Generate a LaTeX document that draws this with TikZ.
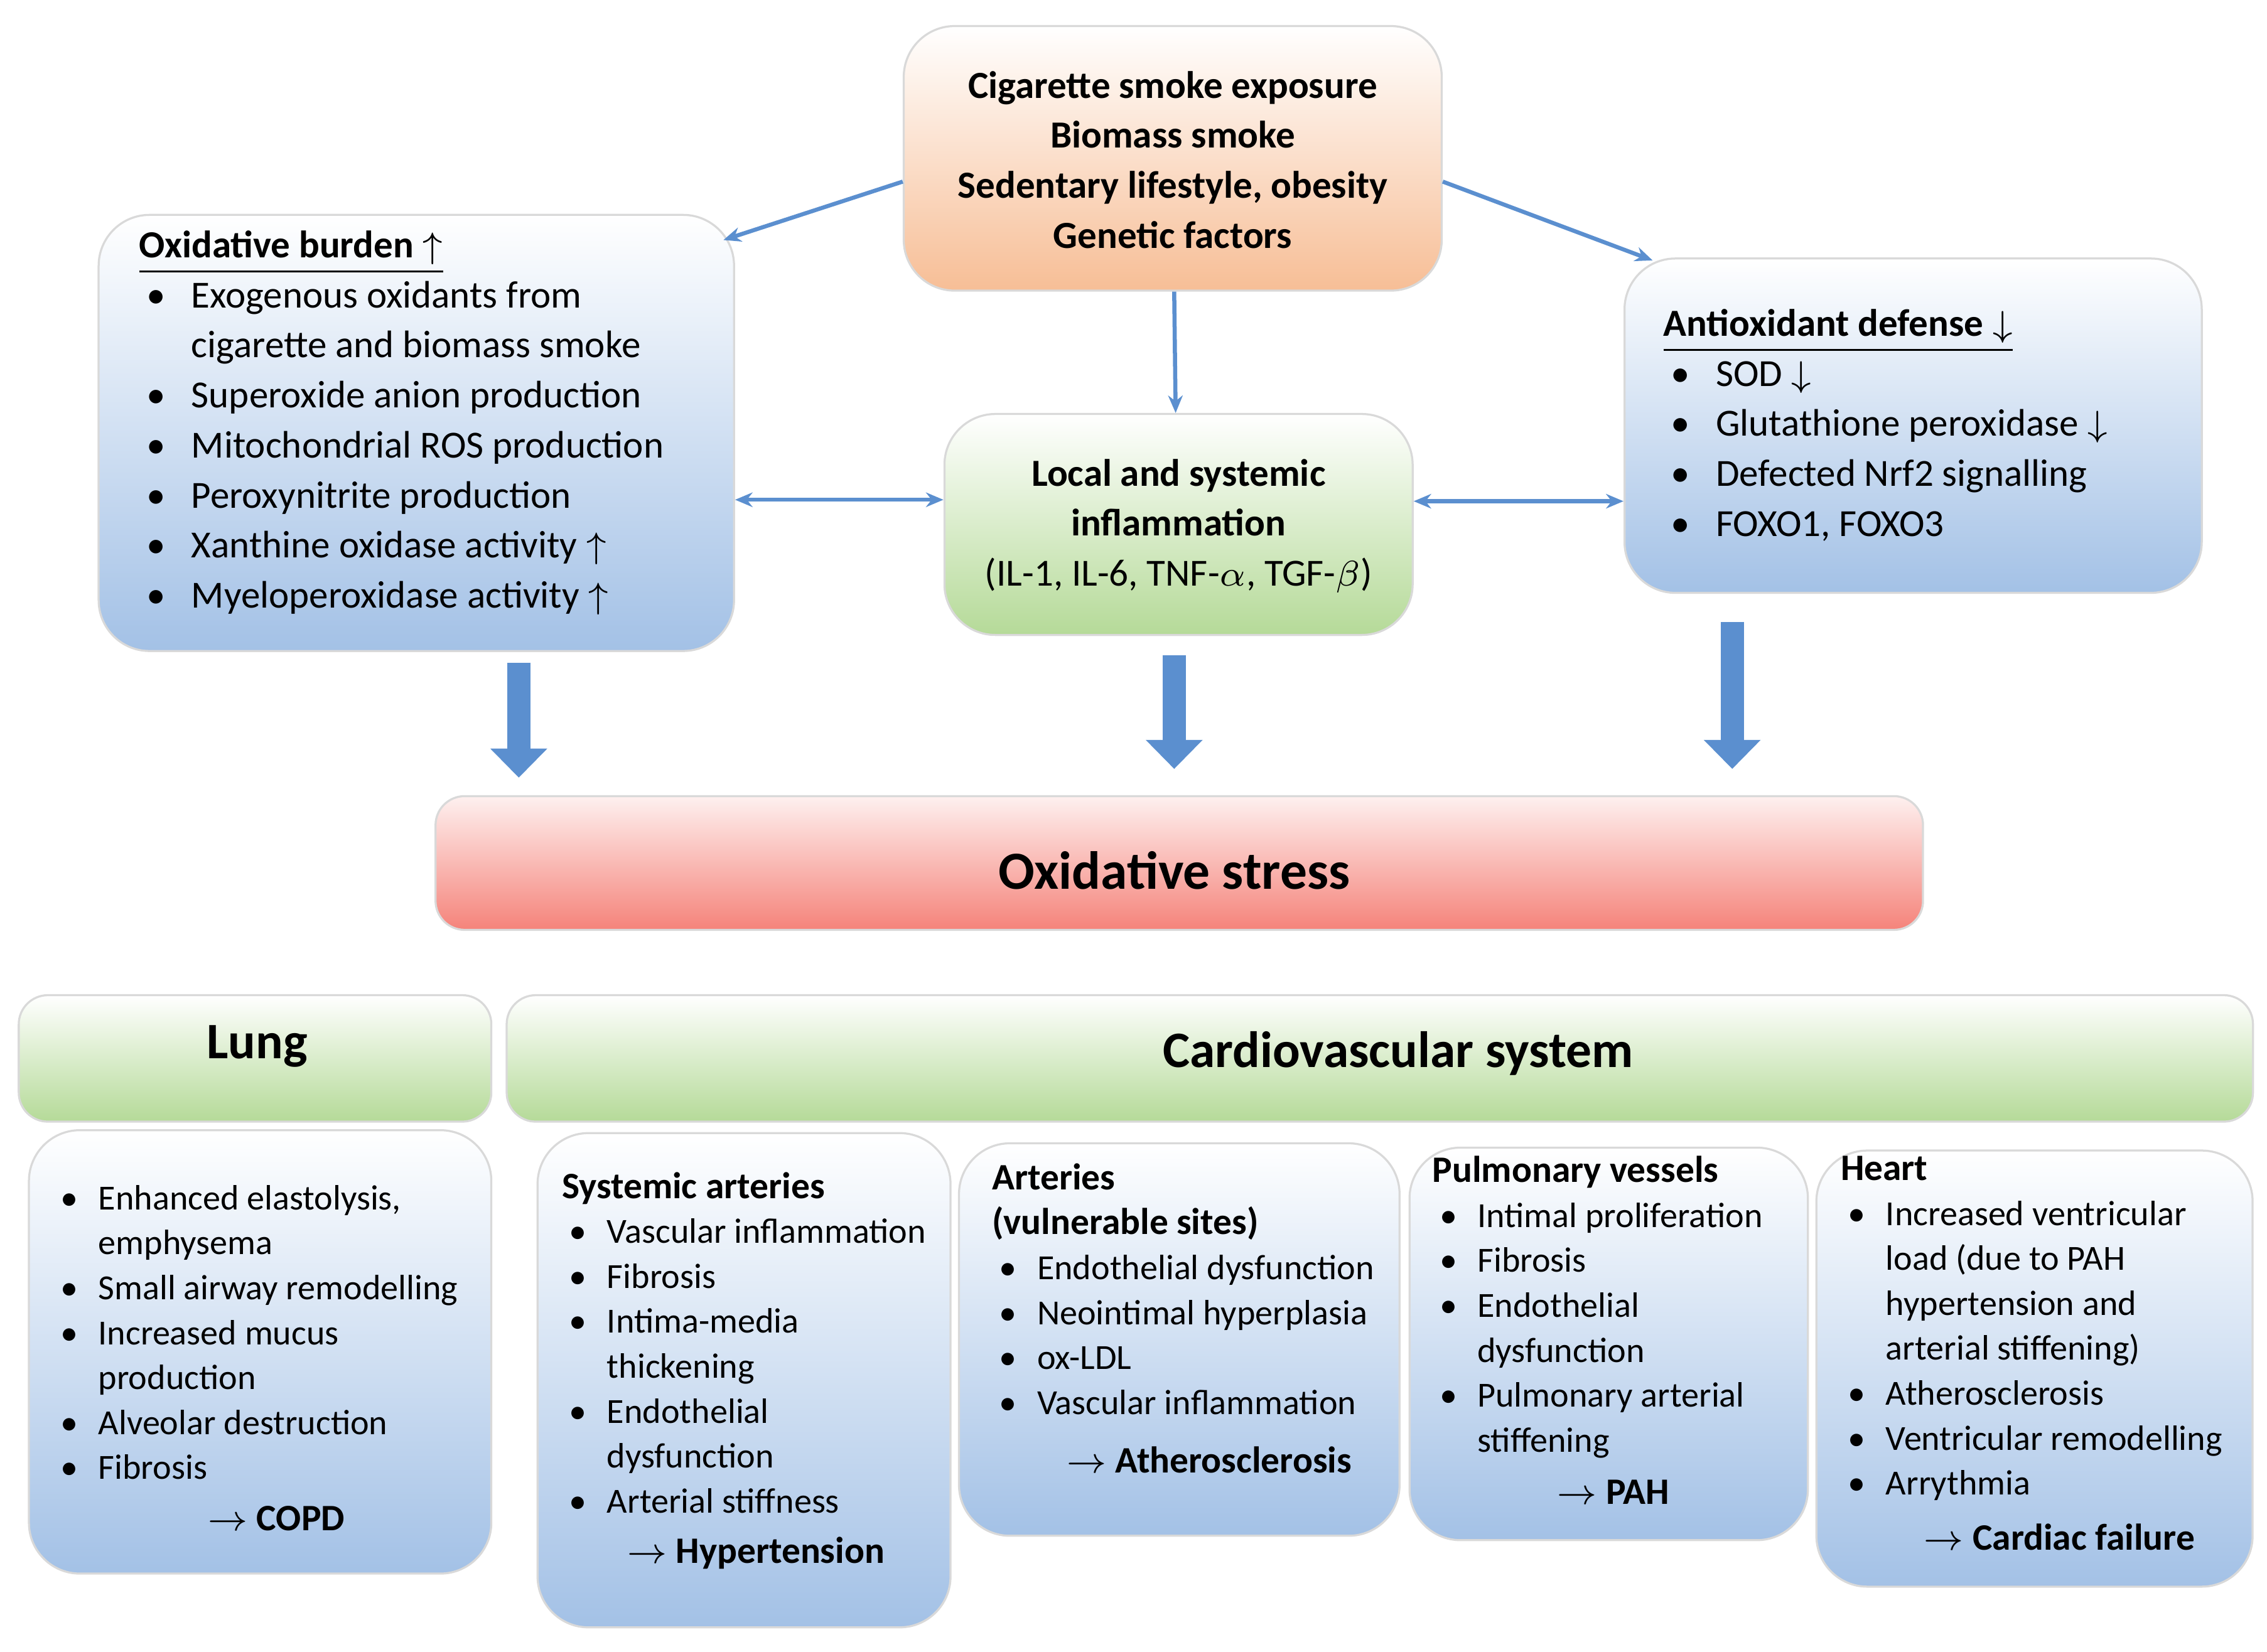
\documentclass[tikz,border=0pt]{standalone}
\usepackage{fontspec}
\setmainfont{Carlito}
\usetikzlibrary{arrows.meta}
\definecolor{bl}{HTML}{A3C1E6}
\definecolor{gr}{HTML}{B5DA98}
\definecolor{og}{HTML}{F7BE96}
\definecolor{rd}{HTML}{F5837A}
\definecolor{ar}{HTML}{5B8FCF}
\newcommand\bu{\makebox[3.6mm][l]{\hspace{0.5mm}\textbullet}}
\newcommand\ind{\hspace*{3.6mm}}
\newcommand\bs{\makebox[3.1mm][l]{\hspace{0.5mm}\textbullet}}
\newcommand\is{\hspace*{3.1mm}}
\begin{document}
\begin{tikzpicture}[x=0.01cm,y=-0.01cm,
 box/.style={rectangle,rounded corners=0.35cm,draw=gray!30,line width=0.4pt,inner sep=0,top color=white},
 bbox/.style={box,bottom color=bl},
 gbox/.style={box,bottom color=gr},
 big/.style={font=\fontsize{7.5}{9.8}\selectfont,inner sep=0,align=left,anchor=north west},
 sml/.style={font=\fontsize{6.9}{8.8}\selectfont,inner sep=0,align=left,anchor=north west},
 thin arrow/.style={draw=ar,line width=0.8pt,-{Stealth[length=0.12cm,width=0.1cm]}},
 dbl arrow/.style={draw=ar,line width=0.8pt,{Stealth[length=0.12cm,width=0.1cm]}-{Stealth[length=0.12cm,width=0.1cm]}},
 block/.style={draw=ar,line width=0.16cm,-{Triangle[width=0.38cm,length=0.2cm]}}]
\useasboundingbox (0,0) rectangle (1560,1137);
% boxes
\node[box,bottom color=og,minimum width=3.70cm,minimum height=1.82cm] (top) at (807,109) {};
\node[bbox,minimum width=4.37cm,minimum height=3.00cm] (burden) at (286.5,298) {};
\node[gbox,minimum width=3.22cm,minimum height=1.52cm] (infl) at (811,361) {};
\node[bbox,minimum width=3.97cm,minimum height=2.30cm] (anti) at (1316.5,293) {};
\node[box,top color=rd!12,bottom color=rd,minimum width=10.23cm,minimum height=0.92cm,rounded corners=0.2cm] (stress) at (811.5,594) {};
\node[gbox,minimum width=3.25cm,minimum height=0.87cm,rounded corners=0.2cm] (lungH) at (175.5,728.5) {};
\node[gbox,minimum width=12.01cm,minimum height=0.87cm,rounded corners=0.2cm] (cvH) at (949.5,728.5) {};
\node[bbox,minimum width=3.18cm,minimum height=3.05cm] (lung) at (179,930.5) {};
\node[bbox,minimum width=2.84cm,minimum height=3.40cm] (sys) at (512,950) {};
\node[bbox,minimum width=3.03cm,minimum height=2.70cm] (art) at (811.5,922) {};
\node[bbox,minimum width=2.74cm,minimum height=2.70cm] (pul) at (1107,925) {};
\node[bbox,minimum width=3.00cm,minimum height=3.00cm] (heart) at (1400,942) {};
% texts
\node[font=\fontsize{7.5}{9.8}\selectfont\bfseries,align=center,inner sep=0] (topt) at (807,110) {Cigarette smoke exposure\\Biomass smoke\\Sedentary lifestyle, obesity\\Genetic factors};
\node[big] (burdent) at (95,158) {\textbf{\underline{Oxidative burden $\uparrow$}}\\
\bu Exogenous oxidants from\\ \ind cigarette and biomass smoke\\
\bu Superoxide anion production\\ \bu Mitochondrial ROS production\\
\bu Peroxynitrite production\\ \bu Xanthine oxidase activity $\uparrow$\\
\bu Myeloperoxidase activity $\uparrow$};
\node[font=\fontsize{7.5}{9.8}\selectfont,align=center,inner sep=0] (inflt) at (811,362) {\textbf{Local and systemic}\\\textbf{inflammation}\\(IL-1, IL-6, TNF-$\alpha$, TGF-$\beta$)};
\node[big] (antit) at (1144,212) {\textbf{\underline{Antioxidant defense $\downarrow$}}\\
\bu SOD $\downarrow$\\ \bu Glutathione peroxidase $\downarrow$\\ \bu Defected Nrf2 signalling\\ \bu FOXO1, FOXO3};
\node[font=\fontsize{10.5}{12}\selectfont\bfseries,inner sep=0] (stresst) at (808,599) {Oxidative stress};
\node[font=\fontsize{10}{12}\selectfont\bfseries,inner sep=0] (lungt) at (177,720) {Lung};
\node[font=\fontsize{10}{12}\selectfont\bfseries,inner sep=0] (cvt) at (962,725) {Cardiovascular system};
\node[sml] (lungx) at (36,815) {\bs Enhanced elastolysis,\\ \is emphysema\\ \bs Small airway remodelling\\ \bs Increased mucus\\ \is production\\ \bs Alveolar destruction\\ \bs Fibrosis};
\node[font=\fontsize{7.3}{9}\selectfont\bfseries,inner sep=0] (lungr) at (190,1045) {$\rightarrow$ COPD};
\node[sml] (sysx) at (386,806) {\textbf{\fontsize{7.3}{8.8}\selectfont Systemic arteries}\\ \bs Vascular inflammation\\ \bs Fibrosis\\ \bs Intima-media\\ \is thickening\\ \bs Endothelial\\ \is dysfunction\\ \bs Arterial stiffness};
\node[font=\fontsize{7.3}{9}\selectfont\bfseries,inner sep=0] (sysr) at (520,1069) {$\rightarrow$ Hypertension};
\node[sml] (artx) at (682,800) {\textbf{\fontsize{7.3}{8.8}\selectfont Arteries}\\ \textbf{\fontsize{7.3}{8.8}\selectfont (vulnerable sites)}\\ \bs Endothelial dysfunction\\ \bs Neointimal hyperplasia\\ \bs ox-LDL\\ \bs Vascular inflammation};
\node[font=\fontsize{7.3}{9}\selectfont\bfseries,inner sep=0] (artr) at (832,1005) {$\rightarrow$ Atherosclerosis};
\node[sml] (pulx) at (985,795) {\textbf{\fontsize{7.3}{8.8}\selectfont Pulmonary vessels}\\ \bs Intimal proliferation\\ \bs Fibrosis\\ \bs Endothelial\\ \is dysfunction\\ \bs Pulmonary arterial\\ \is stiffening};
\node[font=\fontsize{7.3}{9}\selectfont\bfseries,inner sep=0] (pulr) at (1110,1027) {$\rightarrow$ PAH};
\node[sml] (heartx) at (1266,795) {\textbf{\fontsize{7.3}{8.8}\selectfont Heart}\\ \bs Increased ventricular\\ \is load (due to PAH\\ \is hypertension and\\ \is arterial stiffening)\\ \bs Atherosclerosis\\ \bs Ventricular remodelling\\ \bs Arrythmia};
\node[font=\fontsize{7.3}{9}\selectfont\bfseries,inner sep=0] (heartr) at (1417,1058) {$\rightarrow$ Cardiac failure};
% connectors
\draw[thin arrow] ([yshift=-0.16cm]top.west) -- ([xshift=-0.08cm,yshift=-0.18cm]burden.north east);
\draw[thin arrow] ([yshift=-0.16cm]top.east) -- ([xshift=0.2cm,yshift=-0.02cm]anti.north west);
\draw[thin arrow] ([xshift=0.01cm]top.south) -- ([xshift=-0.02cm]infl.north);
\draw[dbl arrow] ([yshift=0.17cm]infl.west) -- ([yshift=0.17cm]infl.west -| burden.east);
\draw[dbl arrow] ([yshift=0.16cm]infl.east) -- ([yshift=0.16cm]infl.east -| anti.west);
\coordinate (a1) at (357,456); \coordinate (a2) at (808,451); \coordinate (a3) at (1192,428);
\draw[block] (a1) -- ([yshift=0.12cm]stress.north -| a1);
\draw[block] (a2) -- ([yshift=0.18cm]stress.north -| a2);
\draw[block] (a3) -- ([yshift=0.18cm]stress.north -| a3);
\end{tikzpicture}
\end{document}
